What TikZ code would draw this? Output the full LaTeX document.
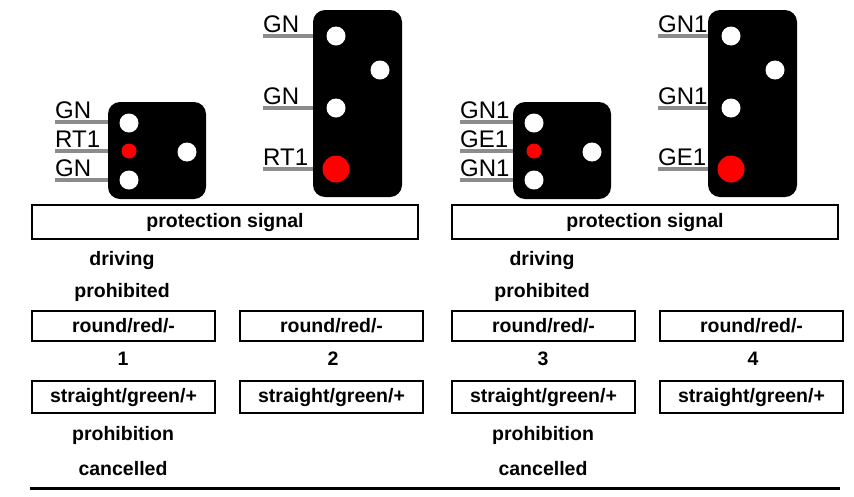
\documentclass[tikz,border=0pt]{standalone}
\usepackage{fontspec}
\setmainfont{Liberation Sans}
\usetikzlibrary{positioning}

\begin{document}
\begin{tikzpicture}
[
x=1pt, y=-1pt
, housing/.style={fill=black, rounded corners=12pt}
, lamp/.style={circle, fill=white, inner sep=0pt, minimum size=19pt}
, redlamp/.style={circle, fill=red, inner sep=0pt, minimum size=15pt}
, biglamp/.style={circle, fill=red, inner sep=0pt, minimum size=27pt}
, wire/.style={line width=4pt, gray!90}
, lbl/.style={font=\fontsize{24}{24}\selectfont, anchor=south west, inner sep=0pt}
, box/.style={draw, line width=2.5pt, font=\bfseries\fontsize{19.5}{19.5}\selectfont}
, txt/.style={font=\bfseries\fontsize{19.5}{19.5}\selectfont}
]
\useasboundingbox (0,0) rectangle (854,496);

\foreach \dx/\sx/\tx/\ga/\gb/\gc/\ta/\tb/\tc/\na/\nb in
  {0/0/0/GN/RT1/GN/GN/GN/RT1/1/2, 420/405/395/GN1/GE1/GN1/GN1/GN1/GE1/3/4}{
% small signal
\begin{scope}[xshift=\sx pt]
\fill[housing] (108,102) rectangle (206,199);
\node[lamp] (sa) at (129,123) {};
\node[redlamp] (sb) at (129,151) {};
\node[lamp] (sc) at (129,180) {};
\node[lamp] (sd) at (187,152) {};
\draw[wire] (55,122) -- (108,122);
\draw[wire] (55,151) -- (108,151);
\draw[wire] (55,180) -- (108,180);
\node[lbl] at (55,119) {\ga};
\node[lbl] at (55,148) {\gb};
\node[lbl] at (55,177) {\gc};
\end{scope}

% tall signal
\begin{scope}[xshift=\tx pt]
\fill[housing] (313,10) rectangle (402,197);
\node[lamp] (ta) at (336,36) {};
\node[lamp] (tb) at (380,70) {};
\node[lamp] (tc) at (336,108) {};
\node[biglamp] (td) at (336,169) {};
\draw[wire] (263,36) -- (313,36);
\draw[wire] (263,108) -- (313,108);
\draw[wire] (263,169) -- (313,169);
\node[lbl] at (263,33) {\ta};
\node[lbl] at (263,105) {\tb};
\node[lbl] at (263,166) {\tc};
\end{scope}

% aspects
\begin{scope}[xshift=\dx pt]
\node[box, minimum width=386pt, minimum height=34pt] (prot) at (225,222) {protection signal};
\node[txt] (drv) at (122,260) {driving};
\node[txt] (prh) at (122,292) {prohibited};
\node[box, minimum width=183pt, minimum height=30pt] (ra) at (123.5,326) {round/red/-};
\node[box, minimum width=183pt, minimum height=30pt] (rb) at (331.5,326) {round/red/-};
\node[txt] (na) at (123,359) {\na};
\node[txt] (nb) at (333,359) {\nb};
\node[box, minimum width=183pt, minimum height=32pt] (sa) at (123.5,397) {straight/green/+};
\node[box, minimum width=183pt, minimum height=32pt] (sb) at (331.5,397) {straight/green/+};
\node[txt] (pc) at (123,435) {prohibition};
\node[txt] (cc) at (123,469) {cancelled};
\end{scope}
}

\draw[line width=3pt] (30,488) -- (840,488);
\end{tikzpicture}
\end{document}
